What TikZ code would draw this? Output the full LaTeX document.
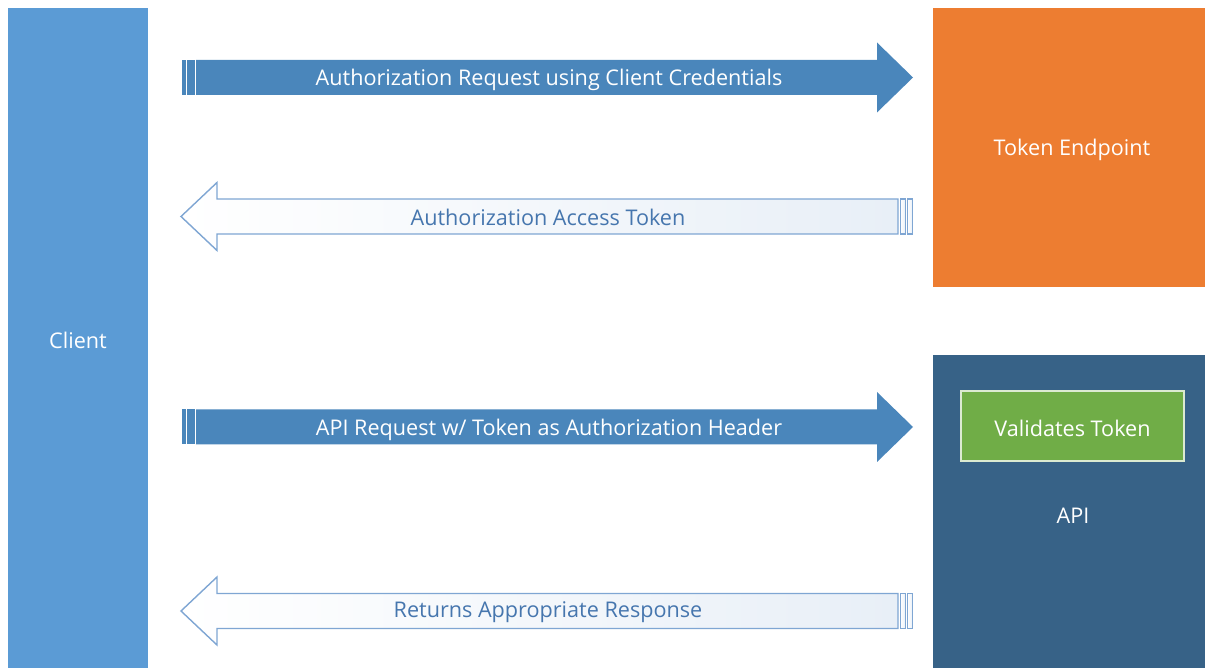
\documentclass[tikz,border=0pt]{standalone}
\usepackage{fontspec}
\setmainfont{Open Sans}
\usepackage{tikz}

\definecolor{clientblue}{HTML}{5B9BD5}
\definecolor{tokenorange}{HTML}{ED7D31}
\definecolor{apiblue}{HTML}{376287}
\definecolor{validgreen}{HTML}{70AD47}
\definecolor{reqblue}{HTML}{4A86BB}
\definecolor{respline}{HTML}{7FA6D3}
\definecolor{resptext}{HTML}{4676AE}

\tikzset{
  boxlabel/.style={text=white, font=\fontsize{12.3}{14}\selectfont},
  reqarrow/.style={fill=reqblue},
  resparrow/.style={draw=respline, line width=0.8pt, left color=white, right color=respline!18},
  arrowlabel/.style={font=\fontsize{12.3}{14}\selectfont, inner sep=0pt}
}

\begin{document}
\begin{tikzpicture}[x=0.02cm, y=-0.02cm]
\useasboundingbox (0,0) rectangle (1205,668);

% boxes
\fill[clientblue] (8,8) rectangle (148,668);
\node[boxlabel] (client) at (78,340) {Client};
\fill[tokenorange] (933,8) rectangle (1205,287);
\node[boxlabel] (token) at (1072,150) {Token Endpoint};
\fill[apiblue] (933,355) rectangle (1205,668);
\node[boxlabel] (api) at (1073,516) {API};
\node[draw=white!75!validgreen, fill=validgreen, line width=0.6pt, minimum width=223*0.02cm, minimum height=70*0.02cm, boxlabel] (validate) at (1072.5,426) {};
\node[boxlabel] (validtext) at (1072.5,428) {Validates Token};

% requests, pointing right
\foreach \y/\txt/\nm in {77.5/{Authorization Request using Client Credentials}/auth, 427/{API Request w/ Token as Authorization Header}/api} {
  \fill[reqarrow] (196,\y-17.5) -- (877,\y-17.5) -- (877,\y-35) -- (913,\y) -- (877,\y+35) -- (877,\y+17.5) -- (196,\y+17.5) -- cycle;
  \fill[reqarrow] (181.5,\y-17.5) rectangle (185.5,\y+17.5);
  \fill[reqarrow] (187,\y-17.5) rectangle (194.5,\y+17.5);
  \node[arrowlabel, text=white] (req\nm) at (549,\y+2.5) {\txt};
}

% responses, pointing left
\foreach \y/\txt/\nm in {216.5/{Authorization Access Token}/auth, 611/{Returns Appropriate Response}/api} {
  \path[resparrow] (898,\y-17.5) -- (217,\y-17.5) -- (217,\y-34) -- (181,\y) -- (217,\y+34) -- (217,\y+17.5) -- (898,\y+17.5) -- cycle;
  \path[resparrow] (900.5,\y-17.5) rectangle (905.5,\y+17.5);
  \path[resparrow] (907.5,\y-17.5) rectangle (912.5,\y+17.5);
  \node[arrowlabel, text=resptext] (resp\nm) at (548,\y+1) {\txt};
}
\end{tikzpicture}
\end{document}
